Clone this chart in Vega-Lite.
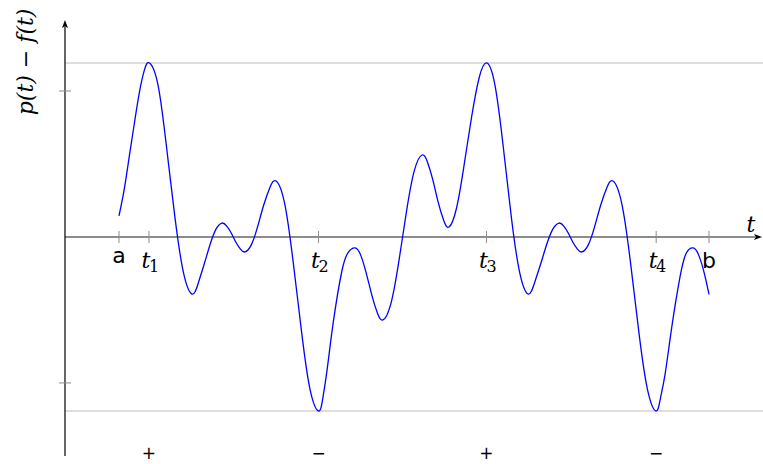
{
  "$schema": "https://vega.github.io/schema/vega-lite/v6.json",
  "width": 763,
  "height": 464,
  "autosize": {"type": "none"},
  "padding": 0,
  "background": "white",
  "config": {"view": {"stroke": null}},
  "datasets": {
    "curve": [
      {"t": 0.639, "v": 0.121}, {"t": 0.700, "v": 0.270}, {"t": 0.760, "v": 0.460}, {"t": 0.820, "v": 0.650}, {"t": 0.880, "v": 0.830}, {"t": 0.940, "v": 0.960},
      {"t": 1.000, "v": 1.000}, {"t": 1.101, "v": 0.873}, {"t": 1.201, "v": 0.520}, {"t": 1.302, "v": 0.110}, {"t": 1.402, "v": -0.205},
      {"t": 1.503, "v": -0.328}, {"t": 1.574, "v": -0.270}, {"t": 1.645, "v": -0.160}, {"t": 1.716, "v": -0.045}, {"t": 1.787, "v": 0.045},
      {"t": 1.858, "v": 0.080}, {"t": 1.912, "v": 0.064}, {"t": 1.967, "v": 0.023}, {"t": 2.021, "v": -0.029}, {"t": 2.076, "v": -0.070},
      {"t": 2.130, "v": -0.086}, {"t": 2.203, "v": -0.047}, {"t": 2.277, "v": 0.055}, {"t": 2.350, "v": 0.181}, {"t": 2.424, "v": 0.283},
      {"t": 2.497, "v": 0.322}, {"t": 2.598, "v": 0.196}, {"t": 2.698, "v": -0.135}, {"t": 2.799, "v": -0.543}, {"t": 2.899, "v": -0.874},
      {"t": 3.000, "v": -1.000}, {"t": 3.050, "v": -0.930}, {"t": 3.100, "v": -0.770}, {"t": 3.175, "v": -0.490}, {"t": 3.275, "v": -0.200}, {"t": 3.350, "v": -0.090},
      {"t": 3.432, "v": -0.063}, {"t": 3.498, "v": -0.103}, {"t": 3.564, "v": -0.206}, {"t": 3.631, "v": -0.334}, {"t": 3.697, "v": -0.437},
      {"t": 3.763, "v": -0.477}, {"t": 3.855, "v": -0.386}, {"t": 3.948, "v": -0.149}, {"t": 4.040, "v": 0.143}, {"t": 4.133, "v": 0.380},
      {"t": 4.225, "v": 0.471}, {"t": 4.289, "v": 0.431}, {"t": 4.353, "v": 0.328}, {"t": 4.416, "v": 0.200}, {"t": 4.480, "v": 0.097},
      {"t": 4.544, "v": 0.057}, {"t": 4.633, "v": 0.165}, {"t": 4.722, "v": 0.410}, {"t": 4.812, "v": 0.690}, {"t": 4.901, "v": 0.915},
      {"t": 4.990, "v": 1.000}, {"t": 5.088, "v": 0.873}, {"t": 5.186, "v": 0.520}, {"t": 5.283, "v": 0.110}, {"t": 5.381, "v": -0.205},
      {"t": 5.479, "v": -0.328}, {"t": 5.552, "v": -0.270}, {"t": 5.626, "v": -0.160}, {"t": 5.699, "v": -0.045}, {"t": 5.773, "v": 0.045},
      {"t": 5.846, "v": 0.080}, {"t": 5.900, "v": 0.064}, {"t": 5.955, "v": 0.023}, {"t": 6.009, "v": -0.029}, {"t": 6.064, "v": -0.070},
      {"t": 6.118, "v": -0.086}, {"t": 6.191, "v": -0.047}, {"t": 6.265, "v": 0.055}, {"t": 6.338, "v": 0.181}, {"t": 6.412, "v": 0.283},
      {"t": 6.485, "v": 0.322}, {"t": 6.587, "v": 0.196}, {"t": 6.689, "v": -0.135}, {"t": 6.790, "v": -0.543}, {"t": 6.892, "v": -0.874},
      {"t": 6.994, "v": -1.000}, {"t": 7.045, "v": -0.930}, {"t": 7.101, "v": -0.790}, {"t": 7.180, "v": -0.520}, {"t": 7.278, "v": -0.230}, {"t": 7.350, "v": -0.095},
      {"t": 7.432, "v": -0.063}, {"t": 7.498, "v": -0.103}, {"t": 7.564, "v": -0.206}, {"t": 7.621, "v": -0.330}
    ],
    "xticks": [
      {"t": 0.639}, {"t": 0.994}, {"t": 3.0}, {"t": 4.988}, {"t": 6.996}, {"t": 7.621}
    ],
    "endlabels": [
      {"label": "a", "t": 0.639, "v": -0.149},
      {"label": "b", "t": 7.621, "v": -0.178}
    ],
    "tlabels": [
      {"t": 0.994, "sub": "1"}, {"t": 3.0, "sub": "2"}, {"t": 4.988, "sub": "3"}, {"t": 6.996, "sub": "4"}
    ],
    "signs": [
      {"t": 0.994, "s": "+"}, {"t": 3.0, "s": "−"}, {"t": 4.988, "s": "+"}, {"t": 6.996, "s": "−"}
    ]
  },
  "layer": [
    {
      "data": {"values": [{"v": 1.0}, {"v": -1.0}]},
      "mark": {"type": "rule", "color": "#d3d3d3", "strokeWidth": 1.5},
      "encoding": {
        "x": {"datum": 0, "type": "quantitative", "scale": {"domain": [-0.769, 8.26], "nice": false, "zero": false}, "axis": null},
        "x2": {"datum": 8.26},
        "y": {"field": "v", "type": "quantitative", "scale": {"domain": [-1.305, 1.362], "nice": false, "zero": false}, "axis": null}
      }
    },
    {
      "data": {"values": [{}]},
      "mark": {"type": "rule", "color": "#666666", "strokeWidth": 1.4},
      "encoding": {
        "x": {"datum": 0, "type": "quantitative", "scale": {"domain": [-0.769, 8.26], "nice": false, "zero": false}, "axis": null},
        "x2": {"datum": 8.17},
        "y": {"datum": 0, "type": "quantitative", "scale": {"domain": [-1.305, 1.362], "nice": false, "zero": false}, "axis": null}
      }
    },
    {
      "data": {"values": [{}]},
      "mark": {"type": "rule", "color": "#000000", "strokeWidth": 1.2},
      "encoding": {
        "x": {"datum": 0, "type": "quantitative", "scale": {"domain": [-0.769, 8.26], "nice": false, "zero": false}, "axis": null},
        "y": {"datum": -1.259, "type": "quantitative", "scale": {"domain": [-1.305, 1.362], "nice": false, "zero": false}, "axis": null},
        "y2": {"datum": 1.21}
      }
    },
    {
      "data": {"values": [{"t": 8.201, "v": 0}]},
      "mark": {"type": "point", "shape": "M1,0L-1,-0.75L-0.55,0L-1,0.75Z", "size": 64, "filled": true, "color": "#000000", "opacity": 1},
      "encoding": {
        "x": {"field": "t", "type": "quantitative", "scale": {"domain": [-0.769, 8.26], "nice": false, "zero": false}, "axis": null},
        "y": {"field": "v", "type": "quantitative", "scale": {"domain": [-1.305, 1.362], "nice": false, "zero": false}, "axis": null}
      }
    },
    {
      "data": {"values": [{"t": 0, "v": 1.224}]},
      "mark": {"type": "point", "shape": "M0,-1L0.75,1L0,0.55L-0.75,1Z", "size": 64, "filled": true, "color": "#000000", "opacity": 1},
      "encoding": {
        "x": {"field": "t", "type": "quantitative", "scale": {"domain": [-0.769, 8.26], "nice": false, "zero": false}, "axis": null},
        "y": {"field": "v", "type": "quantitative", "scale": {"domain": [-1.305, 1.362], "nice": false, "zero": false}, "axis": null}
      }
    },
    {
      "data": {"name": "xticks"},
      "mark": {"type": "rule", "color": "#8c8c8c", "strokeWidth": 1},
      "encoding": {
        "x": {"field": "t", "type": "quantitative", "scale": {"domain": [-0.769, 8.26], "nice": false, "zero": false}, "axis": null},
        "y": {"datum": -0.0345, "type": "quantitative", "scale": {"domain": [-1.305, 1.362], "nice": false, "zero": false}, "axis": null},
        "y2": {"datum": 0.0345}
      }
    },
    {
      "data": {"values": [{"v": 0.839}, {"v": -0.839}]},
      "mark": {"type": "rule", "color": "#8c8c8c", "strokeWidth": 1},
      "encoding": {
        "x": {"datum": -0.071, "type": "quantitative", "scale": {"domain": [-0.769, 8.26], "nice": false, "zero": false}, "axis": null},
        "x2": {"datum": 0.071},
        "y": {"field": "v", "type": "quantitative", "scale": {"domain": [-1.305, 1.362], "nice": false, "zero": false}, "axis": null}
      }
    },
    {
      "data": {"name": "curve"},
      "mark": {"type": "line", "color": "#0000ff", "strokeWidth": 1.3, "interpolate": "natural"},
      "encoding": {
        "x": {"field": "t", "type": "quantitative", "scale": {"domain": [-0.769, 8.26], "nice": false, "zero": false}, "axis": null},
        "y": {"field": "v", "type": "quantitative", "scale": {"domain": [-1.305, 1.362], "nice": false, "zero": false}, "axis": null}
      }
    },
    {
      "data": {"name": "endlabels"},
      "mark": {"type": "text", "font": "DejaVu Sans", "fontSize": 22, "color": "#000000", "align": "center", "baseline": "alphabetic"},
      "encoding": {
        "x": {"field": "t", "type": "quantitative", "scale": {"domain": [-0.769, 8.26], "nice": false, "zero": false}, "axis": null},
        "y": {"field": "v", "type": "quantitative", "scale": {"domain": [-1.305, 1.362], "nice": false, "zero": false}, "axis": null},
        "text": {"field": "label"}
      }
    },
    {
      "data": {"name": "tlabels"},
      "mark": {"type": "text", "font": "DejaVu Serif", "fontStyle": "italic", "fontSize": 22, "color": "#000000", "align": "center", "baseline": "alphabetic", "dx": -3, "text": "t"},
      "encoding": {
        "x": {"field": "t", "type": "quantitative", "scale": {"domain": [-0.769, 8.26], "nice": false, "zero": false}, "axis": null},
        "y": {"datum": -0.178, "type": "quantitative", "scale": {"domain": [-1.305, 1.362], "nice": false, "zero": false}, "axis": null}
      }
    },
    {
      "data": {"name": "tlabels"},
      "mark": {"type": "text", "font": "DejaVu Serif", "fontSize": 16, "color": "#000000", "align": "center", "baseline": "alphabetic", "dx": 5},
      "encoding": {
        "x": {"field": "t", "type": "quantitative", "scale": {"domain": [-0.769, 8.26], "nice": false, "zero": false}, "axis": null},
        "y": {"datum": -0.201, "type": "quantitative", "scale": {"domain": [-1.305, 1.362], "nice": false, "zero": false}, "axis": null},
        "text": {"field": "sub"}
      }
    },
    {
      "data": {"values": [{"t": 8.118, "v": 0.069, "label": "t"}]},
      "mark": {"type": "text", "font": "DejaVu Serif", "fontStyle": "italic", "fontSize": 22, "color": "#000000", "align": "center", "baseline": "middle"},
      "encoding": {
        "x": {"field": "t", "type": "quantitative", "scale": {"domain": [-0.769, 8.26], "nice": false, "zero": false}, "axis": null},
        "y": {"field": "v", "type": "quantitative", "scale": {"domain": [-1.305, 1.362], "nice": false, "zero": false}, "axis": null},
        "text": {"field": "label"}
      }
    },
    {
      "data": {"values": [{"t": -0.462, "v": 1.006, "label": "p(t) − f(t)"}]},
      "mark": {"type": "text", "font": "DejaVu Serif", "fontStyle": "italic", "fontSize": 22, "color": "#000000", "align": "center", "baseline": "middle", "angle": 270},
      "encoding": {
        "x": {"field": "t", "type": "quantitative", "scale": {"domain": [-0.769, 8.26], "nice": false, "zero": false}, "axis": null},
        "y": {"field": "v", "type": "quantitative", "scale": {"domain": [-1.305, 1.362], "nice": false, "zero": false}, "axis": null},
        "text": {"field": "label"}
      }
    },
    {
      "data": {"name": "signs"},
      "mark": {"type": "text", "font": "DejaVu Sans", "fontSize": 17, "color": "#000000", "align": "center", "baseline": "middle"},
      "encoding": {
        "x": {"field": "t", "type": "quantitative", "scale": {"domain": [-0.769, 8.26], "nice": false, "zero": false}, "axis": null},
        "y": {"datum": -1.25, "type": "quantitative", "scale": {"domain": [-1.305, 1.362], "nice": false, "zero": false}, "axis": null},
        "text": {"field": "s"}
      }
    }
  ]
}
